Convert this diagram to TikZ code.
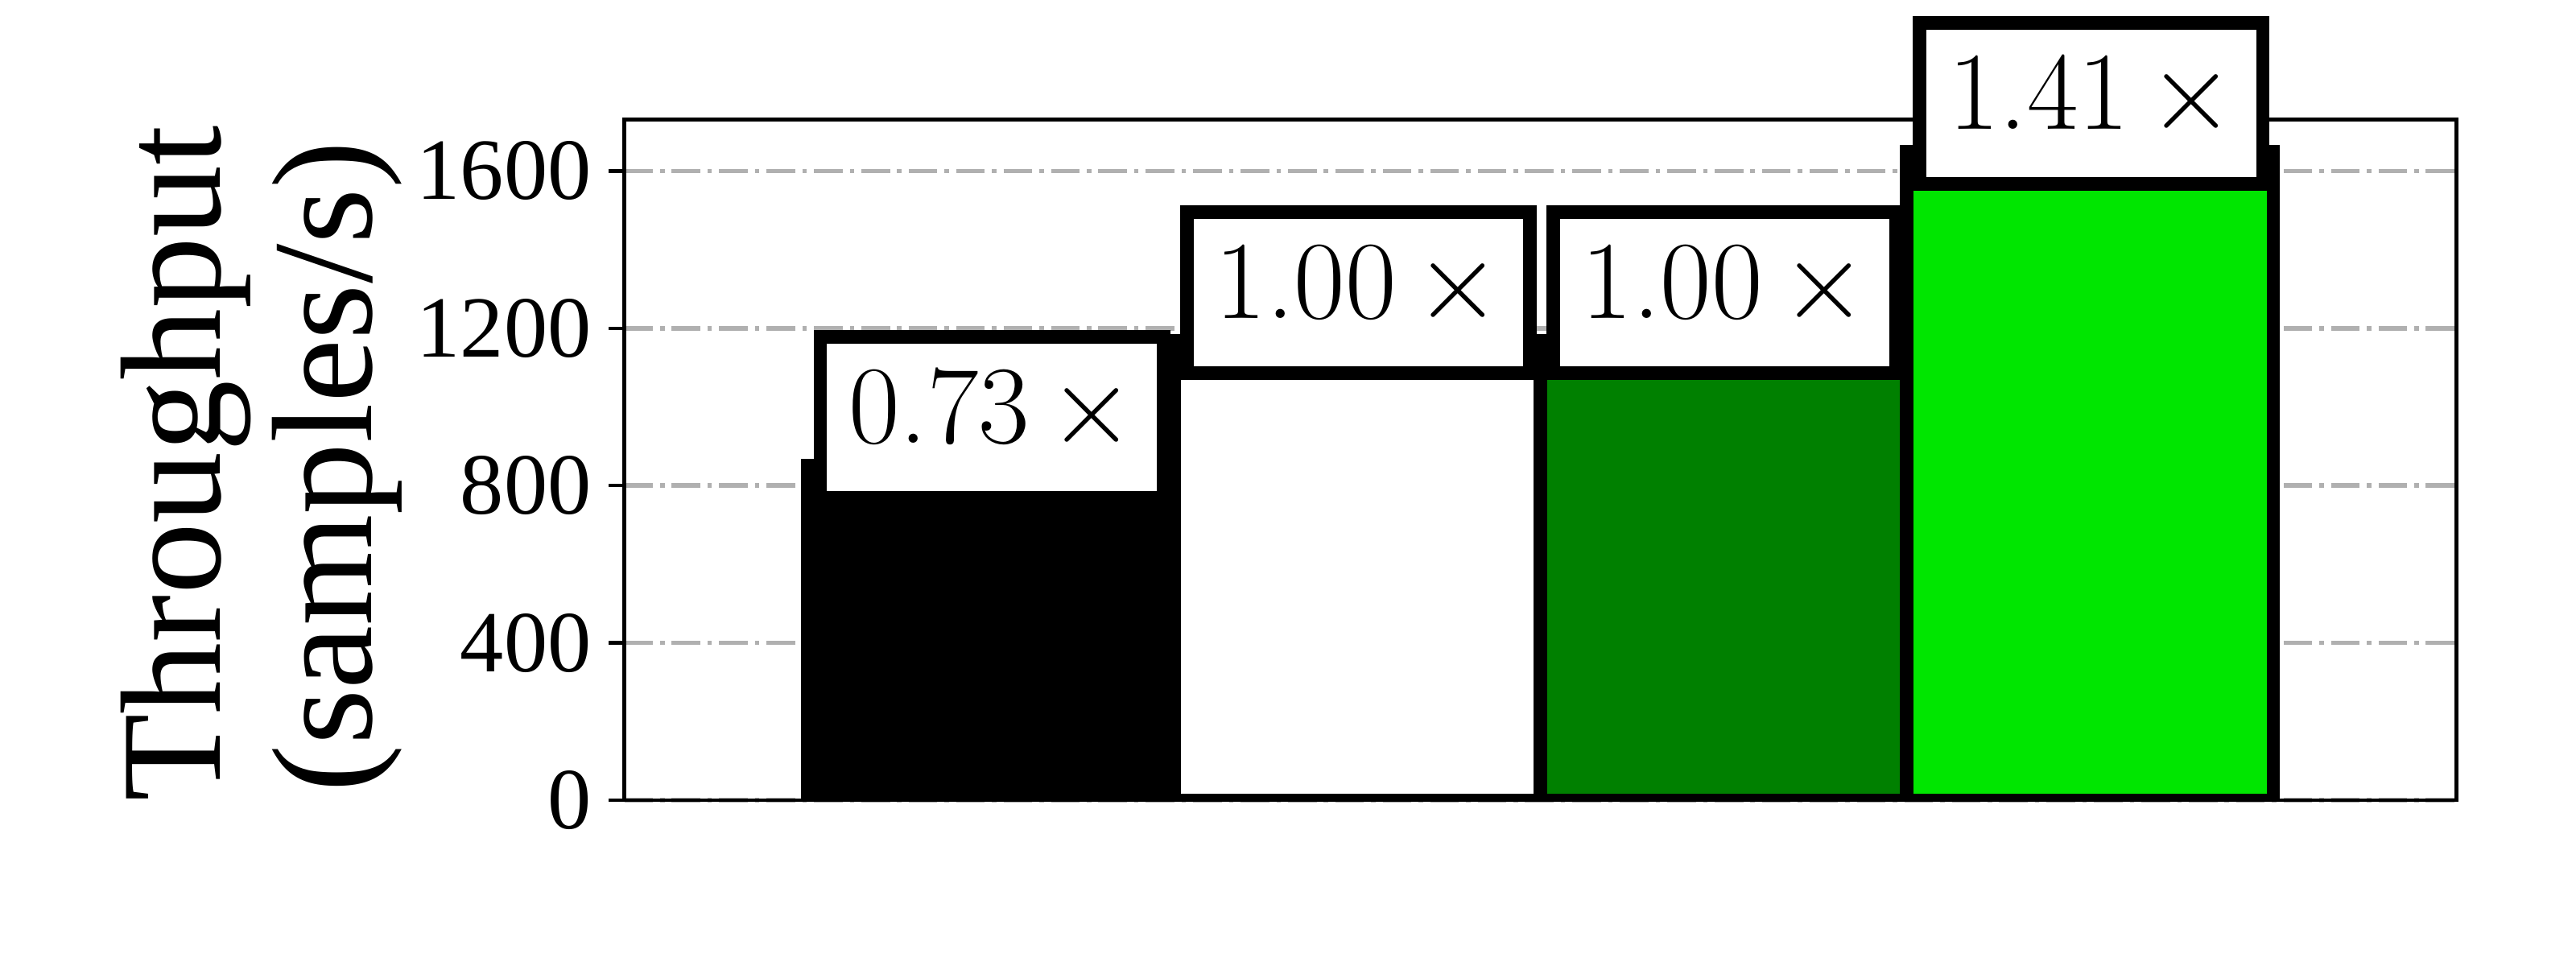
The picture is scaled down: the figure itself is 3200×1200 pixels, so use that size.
\documentclass[tikz,border=0pt]{standalone}
\usepackage{fontspec}
\newfontfamily\timesf{Liberation Serif}
\definecolor{gridgray}{HTML}{B0B0B0}
\definecolor{dkgreen}{HTML}{008000}
\definecolor{ltgreen}{HTML}{00E600}
\begin{document}
\begin{tikzpicture}[x=0.18pt,y=-0.18pt,
  gridline/.style={draw=gridgray,line width=1pt,dash pattern=on 6.4pt off 1.6pt on 1pt off 1.6pt},
  barbox/.style={draw=black,line width=3pt},
  spine/.style={draw=black,line width=0.8pt},
  tickmark/.style={draw=black,line width=0.8pt},
  ticklabel/.style={anchor=east,inner sep=0pt,font=\timesf\fontsize{19.5}{24}\selectfont},
  ratiobox/.style={draw=black,line width=3pt,fill=white,inner sep=0pt,minimum width=76.7pt,minimum height=36.05pt,text height=14pt,text depth=2.48pt,font=\fontsize{24.88}{30}\selectfont},
  axlabel/.style={rotate=90,anchor=base,inner sep=0pt,font=\timesf\fontsize{32}{38}\selectfont}
]
\useasboundingbox (0,0) rectangle (3200,1200);
% grid
\foreach \y in {994,798.6,603.2,407.8,212.4}
  \draw[gridline] (775.5,\y) -- (3051.5,\y);
% bars
\begin{scope}
  \clip (775.5,148.3) rectangle (3051.5,994);
  \path[barbox,fill=black] (1003.1,994) rectangle (1458.3,578.4);
  \path[barbox,fill=white] (1458.3,994) rectangle (1913.5,423.4);
  \path[barbox,fill=dkgreen] (1913.5,994) rectangle (2368.7,423.4);
  \path[barbox,fill=ltgreen] (2368.7,994) rectangle (2823.9,188.4);
\end{scope}
% axes frame
\draw[spine] (775.5,148.3) rectangle (3051.5,994);
% y ticks
\foreach \y/\l in {994/0,798.6/400,603.2/800,407.8/1200,212.4/1600}{
  \draw[tickmark] (756.1,\y) -- (775.5,\y);
  \node[ticklabel] (tick\l) at (735.5,\y) {\l};
}
% ratio boxes
\node[ratiobox] (r1) at (1232.2,518.4) {0.73\,$\times$};
\node[ratiobox] (r2) at (1687.4,363.4) {1.00\,$\times$};
\node[ratiobox] (r3) at (2142.6,363.4) {1.00\,$\times$};
\node[ratiobox] (r4) at (2597.8,128.4) {1.41\,$\times$};
% y label
\node[axlabel] (yl1) at (273.6,576) {Throughput};
\node[axlabel] (yl2) at (461.6,580) {(samples/s)};
\end{tikzpicture}
\end{document}
